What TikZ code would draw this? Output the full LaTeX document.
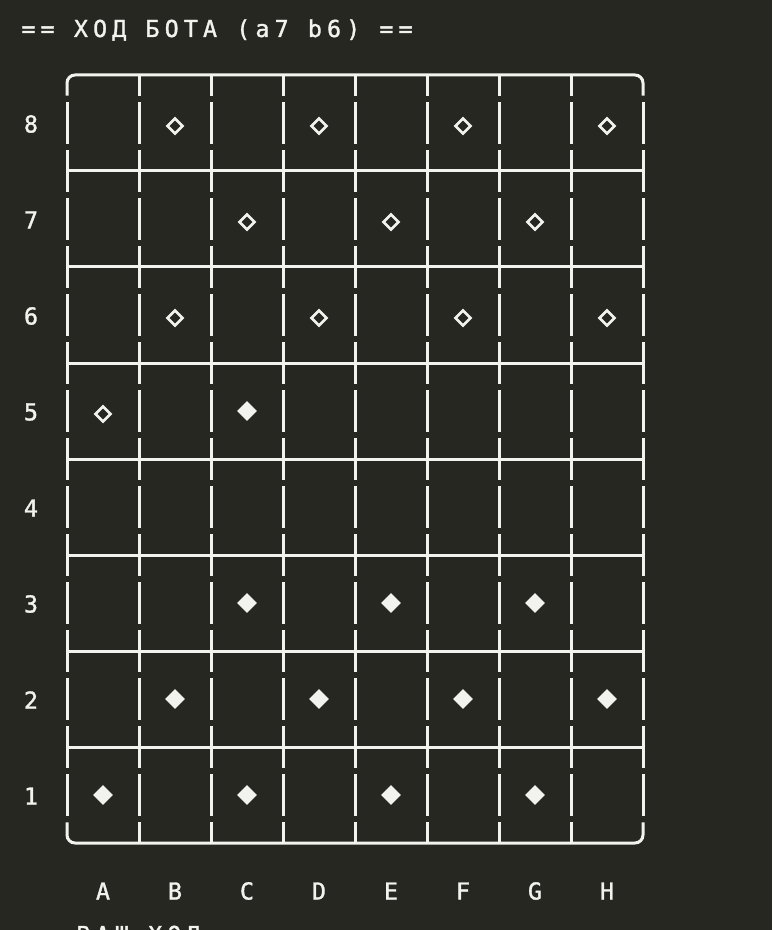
\documentclass[tikz,border=0pt]{standalone}
\usepackage{fontspec}
\usetikzlibrary{shapes.geometric}
\newfontfamily\termfont{DejaVu Sans Mono}[LetterSpace=22, FakeBold=1.4]

\tikzset{every picture/.style={line width=0.75pt}}
\tikzset{
  termtext/.style={text={rgb, 255:red, 242; green, 242; blue, 238 }, inner sep=0pt, font=\termfont\fontsize{17.5pt}{21pt}\selectfont},
  boxline/.style={draw={rgb, 255:red, 242; green, 242; blue, 238 }, line width=2.25pt},
  colline/.style={boxline, dash pattern=on 31.125pt off 4.875pt, dash phase=15.5625pt},
  edgeline/.style={boxline, dash pattern=on 31.125pt off 4.875pt, dash phase=0pt},
  whitestone/.style={diamond, draw={rgb, 255:red, 242; green, 242; blue, 238 }, line width=2pt, inner sep=0pt, minimum size=12pt},
  blackstone/.style={diamond, fill={rgb, 255:red, 242; green, 242; blue, 238 }, inner sep=0pt, minimum size=15pt}
}

\begin{document}
\begin{tikzpicture}[x=0.75pt,y=0.75pt,yscale=-1,xscale=1]
	%Shape: Rectangle [id:bg] 
	\fill [color={rgb, 255:red, 39; green, 39; blue, 34 }] (0,0) rectangle (772,930) ;
	\useasboundingbox (0,0) rectangle (772,930) ;

	%Straight Lines [id:top] 
	\draw [boxline, rounded corners=6pt]   (67,95.75) -- (67,75) -- (643,75) -- (643,95.75) ;
	%Straight Lines [id:bottom] 
	\draw [boxline, rounded corners=6pt]   (67,822.25) -- (67,843) -- (643,843) -- (643,822.25) ;
	%Straight Lines [id:h7] 
	\draw [boxline]    (67,171) -- (643,171) ;
	%Straight Lines [id:h6] 
	\draw [boxline]    (67,267) -- (643,267) ;
	%Straight Lines [id:h5] 
	\draw [boxline]    (67,363) -- (643,363) ;
	%Straight Lines [id:h4] 
	\draw [boxline]    (67,459) -- (643,459) ;
	%Straight Lines [id:h3] 
	\draw [boxline]    (67,555) -- (643,555) ;
	%Straight Lines [id:h2] 
	\draw [boxline]    (67,651) -- (643,651) ;
	%Straight Lines [id:h1] 
	\draw [boxline]    (67,747) -- (643,747) ;

	%Straight Lines [id:va] 
	\draw [edgeline]   (67,102.25) -- (67,815.75) ;
	%Straight Lines [id:vb] 
	\draw [colline]    (139,75) -- (139,843) ;
	%Straight Lines [id:vc] 
	\draw [colline]    (211,75) -- (211,843) ;
	%Straight Lines [id:vd] 
	\draw [colline]    (283,75) -- (283,843) ;
	%Straight Lines [id:ve] 
	\draw [colline]    (355,75) -- (355,843) ;
	%Straight Lines [id:vf] 
	\draw [colline]    (427,75) -- (427,843) ;
	%Straight Lines [id:vg] 
	\draw [colline]    (499,75) -- (499,843) ;
	%Straight Lines [id:vh] 
	\draw [colline]    (571,75) -- (571,843) ;
	%Straight Lines [id:vi] 
	\draw [edgeline]   (643,102.25) -- (643,815.75) ;

	%Shape: Diamond [id:row8] 
	\node [whitestone] (b8) at (175,126) {} ;
	\node [whitestone] (d8) at (319,126) {} ;
	\node [whitestone] (f8) at (463,126) {} ;
	\node [whitestone] (h8) at (607,126) {} ;
	%Shape: Diamond [id:row7] 
	\node [whitestone] (c7) at (247,222) {} ;
	\node [whitestone] (e7) at (391,222) {} ;
	\node [whitestone] (g7) at (535,222) {} ;
	%Shape: Diamond [id:row6] 
	\node [whitestone] (b6) at (175,318) {} ;
	\node [whitestone] (d6) at (319,318) {} ;
	\node [whitestone] (f6) at (463,318) {} ;
	\node [whitestone] (h6) at (607,318) {} ;
	%Shape: Diamond [id:row5] 
	\node [whitestone] (a5) at (103,414) {} ;
	\node [blackstone] (c5) at (247,411) {} ;
	%Shape: Diamond [id:row3] 
	\node [blackstone] (c3) at (247,603) {} ;
	\node [blackstone] (e3) at (391,603) {} ;
	\node [blackstone] (g3) at (535,603) {} ;
	%Shape: Diamond [id:row2] 
	\node [blackstone] (b2) at (175,699) {} ;
	\node [blackstone] (d2) at (319,699) {} ;
	\node [blackstone] (f2) at (463,699) {} ;
	\node [blackstone] (h2) at (607,699) {} ;
	%Shape: Diamond [id:row1] 
	\node [blackstone] (a1) at (103,795) {} ;
	\node [blackstone] (c1) at (247,795) {} ;
	\node [blackstone] (e1) at (391,795) {} ;
	\node [blackstone] (g1) at (535,795) {} ;

	% Text Node
	\node [termtext, anchor=base west] (title) at (21,37) {== ХОД БОТА (a7 b6) ==};
	% Text Node
	\node [termtext] (rank8) at (31,124) {8};
	% Text Node
	\node [termtext] (rank7) at (31,220) {7};
	% Text Node
	\node [termtext] (rank6) at (31,316) {6};
	% Text Node
	\node [termtext] (rank5) at (31,412) {5};
	% Text Node
	\node [termtext] (rank4) at (31,508) {4};
	% Text Node
	\node [termtext] (rank3) at (31,604) {3};
	% Text Node
	\node [termtext] (rank2) at (31,700) {2};
	% Text Node
	\node [termtext] (rank1) at (31,796) {1};
	% Text Node
	\node [termtext] (fileA) at (103,891) {A};
	% Text Node
	\node [termtext] (fileB) at (175,891) {B};
	% Text Node
	\node [termtext] (fileC) at (247,891) {C};
	% Text Node
	\node [termtext] (fileD) at (319,891) {D};
	% Text Node
	\node [termtext] (fileE) at (391,891) {E};
	% Text Node
	\node [termtext] (fileF) at (463,891) {F};
	% Text Node
	\node [termtext] (fileG) at (535,891) {G};
	% Text Node
	\node [termtext] (fileH) at (607,891) {H};
	% Text Node
	\node [termtext, anchor=base west] (yourmove) at (76,943) {ВАШ ХОД};

\end{tikzpicture}
\end{document}
